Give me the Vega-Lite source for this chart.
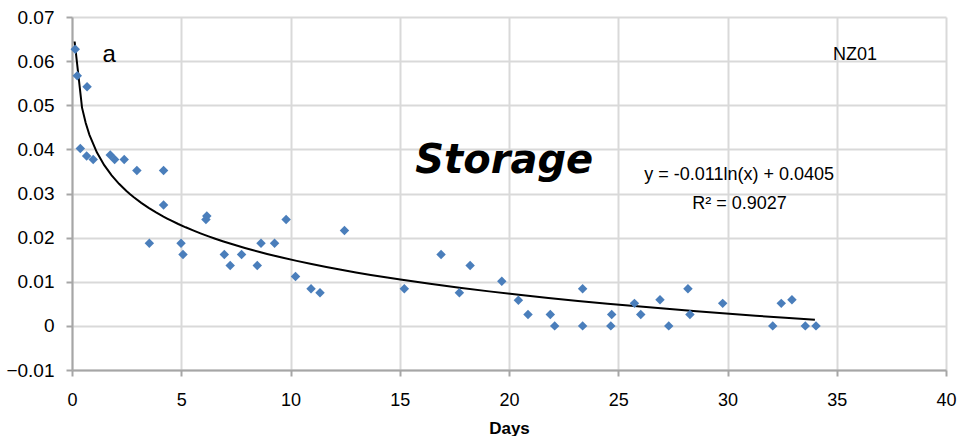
{
  "$schema": "https://vega.github.io/schema/vega-lite/v6.json",
  "autosize": {"type": "none"},
  "padding": {"left": 72, "top": 17, "right": 12, "bottom": 66},
  "width": 874,
  "height": 353,
  "background": "white",
  "config": {
    "view": {"stroke": null},
    "font": "Liberation Sans"
  },
  "datasets": {
    "pts": [
      {"day": 0.15, "v": 0.0627}, {"day": 0.24, "v": 0.0567}, {"day": 0.69, "v": 0.0542},
      {"day": 0.38, "v": 0.0402}, {"day": 0.67, "v": 0.0385}, {"day": 0.97, "v": 0.0377},
      {"day": 1.75, "v": 0.0387}, {"day": 1.95, "v": 0.0377}, {"day": 2.39, "v": 0.0377},
      {"day": 2.97, "v": 0.0352}, {"day": 4.19, "v": 0.0352}, {"day": 4.19, "v": 0.0274},
      {"day": 3.54, "v": 0.0187}, {"day": 4.99, "v": 0.0187}, {"day": 5.08, "v": 0.0162},
      {"day": 6.13, "v": 0.0241}, {"day": 6.17, "v": 0.0249}, {"day": 6.97, "v": 0.0162},
      {"day": 7.24, "v": 0.0137}, {"day": 7.76, "v": 0.0162}, {"day": 8.48, "v": 0.0137},
      {"day": 8.65, "v": 0.0187}, {"day": 9.27, "v": 0.0187}, {"day": 9.80, "v": 0.0241},
      {"day": 10.23, "v": 0.0112}, {"day": 10.94, "v": 0.0084}, {"day": 11.35, "v": 0.0075},
      {"day": 12.47, "v": 0.0216}, {"day": 15.21, "v": 0.0084}, {"day": 16.89, "v": 0.0162},
      {"day": 17.73, "v": 0.0075}, {"day": 18.22, "v": 0.0137}, {"day": 19.67, "v": 0.0101},
      {"day": 20.43, "v": 0.0058}, {"day": 20.87, "v": 0.0026}, {"day": 21.89, "v": 0.0026},
      {"day": 22.09, "v": 0.0}, {"day": 23.37, "v": 0.0084}, {"day": 23.37, "v": 0.0},
      {"day": 24.66, "v": 0.0}, {"day": 24.70, "v": 0.0026}, {"day": 25.74, "v": 0.0051},
      {"day": 26.03, "v": 0.0026}, {"day": 26.91, "v": 0.0059}, {"day": 27.31, "v": 0.0},
      {"day": 28.19, "v": 0.0084}, {"day": 28.28, "v": 0.0026}, {"day": 29.78, "v": 0.0051},
      {"day": 32.07, "v": 0.0}, {"day": 32.46, "v": 0.0051}, {"day": 32.95, "v": 0.0059},
      {"day": 33.56, "v": 0.0}, {"day": 34.05, "v": 0.0}
    ],
    "notes": [
      {"day": 19.78, "v": 0.0346, "label": "Storage", "kind": "title"},
      {"day": 30.53, "v": 0.0330, "label": "y = -0.011ln(x) + 0.0405", "kind": "eq"},
      {"day": 30.55, "v": 0.0266, "label": "R² = 0.9027", "kind": "eq"},
      {"day": 35.83, "v": 0.0602, "label": "NZ01", "kind": "eq"},
      {"day": 1.70, "v": 0.0598, "label": "a", "kind": "a"}
    ]
  },
  "encoding": {
    "x": {
      "field": "day", "type": "quantitative",
      "scale": {"domain": [0, 40], "nice": false, "zero": false},
      "axis": {
        "title": "Days", "values": [0, 5, 10, 15, 20, 25, 30, 35, 40],
        "labelFlush": false, "labelOverlap": false,
        "grid": true, "gridColor": "#d9d9d9", "gridWidth": 2,
        "domainColor": "#a6a6a6", "domainWidth": 2,
        "tickColor": "#a6a6a6", "tickWidth": 2, "tickSize": 6,
        "labelFontSize": 18, "labelColor": "#000000", "labelPadding": 15,
        "labelFont": "Liberation Sans",
        "titleFont": "Liberation Sans", "titleFontSize": 17, "titleFontWeight": "bold",
        "titleColor": "#000000", "titlePadding": 11
      }
    },
    "y": {
      "field": "v", "type": "quantitative",
      "scale": {"domain": [-0.01, 0.07], "nice": false, "zero": false},
      "axis": {
        "title": null, "values": [-0.01, 0, 0.01, 0.02, 0.03, 0.04, 0.05, 0.06, 0.07],
        "labelFlush": false, "labelOverlap": false,
        "labelExpr": "abs(datum.value) < 1e-9 ? '0' : format(datum.value, '.2f')",
        "grid": true, "gridColor": "#d9d9d9", "gridWidth": 2,
        "domainColor": "#a6a6a6", "domainWidth": 2,
        "tickColor": "#a6a6a6", "tickWidth": 2, "tickSize": 6,
        "labelFontSize": 19, "labelColor": "#000000", "labelPadding": 12,
        "labelFont": "Liberation Sans"
      }
    }
  },
  "layer": [
    {
      "data": {"name": "pts"},
      "transform": [
        {"regression": "v", "on": "day", "method": "log", "extent": [0.12, 34]}
      ],
      "mark": {"type": "line", "color": "#000000", "strokeWidth": 2}
    },
    {
      "data": {"name": "pts"},
      "mark": {"type": "point", "shape": "diamond", "filled": true, "color": "#4a7ebb", "size": 90, "opacity": 1}
    },
    {
      "data": {"name": "notes"},
      "transform": [{"filter": "datum.kind == 'title'"}],
      "mark": {"type": "text", "font": "DejaVu Sans", "fontSize": 40, "fontWeight": "bold", "fontStyle": "italic", "align": "center", "baseline": "alphabetic", "color": "#000000"},
      "encoding": {"text": {"field": "label"}}
    },
    {
      "data": {"name": "notes"},
      "transform": [{"filter": "datum.kind == 'eq'"}],
      "mark": {"type": "text", "font": "Liberation Sans", "fontSize": 18, "align": "center", "baseline": "alphabetic", "color": "#000000"},
      "encoding": {"text": {"field": "label"}}
    },
    {
      "data": {"name": "notes"},
      "transform": [{"filter": "datum.kind == 'a'"}],
      "mark": {"type": "text", "font": "Liberation Sans", "fontSize": 24, "align": "center", "baseline": "alphabetic", "color": "#000000"},
      "encoding": {"text": {"field": "label"}}
    }
  ]
}
